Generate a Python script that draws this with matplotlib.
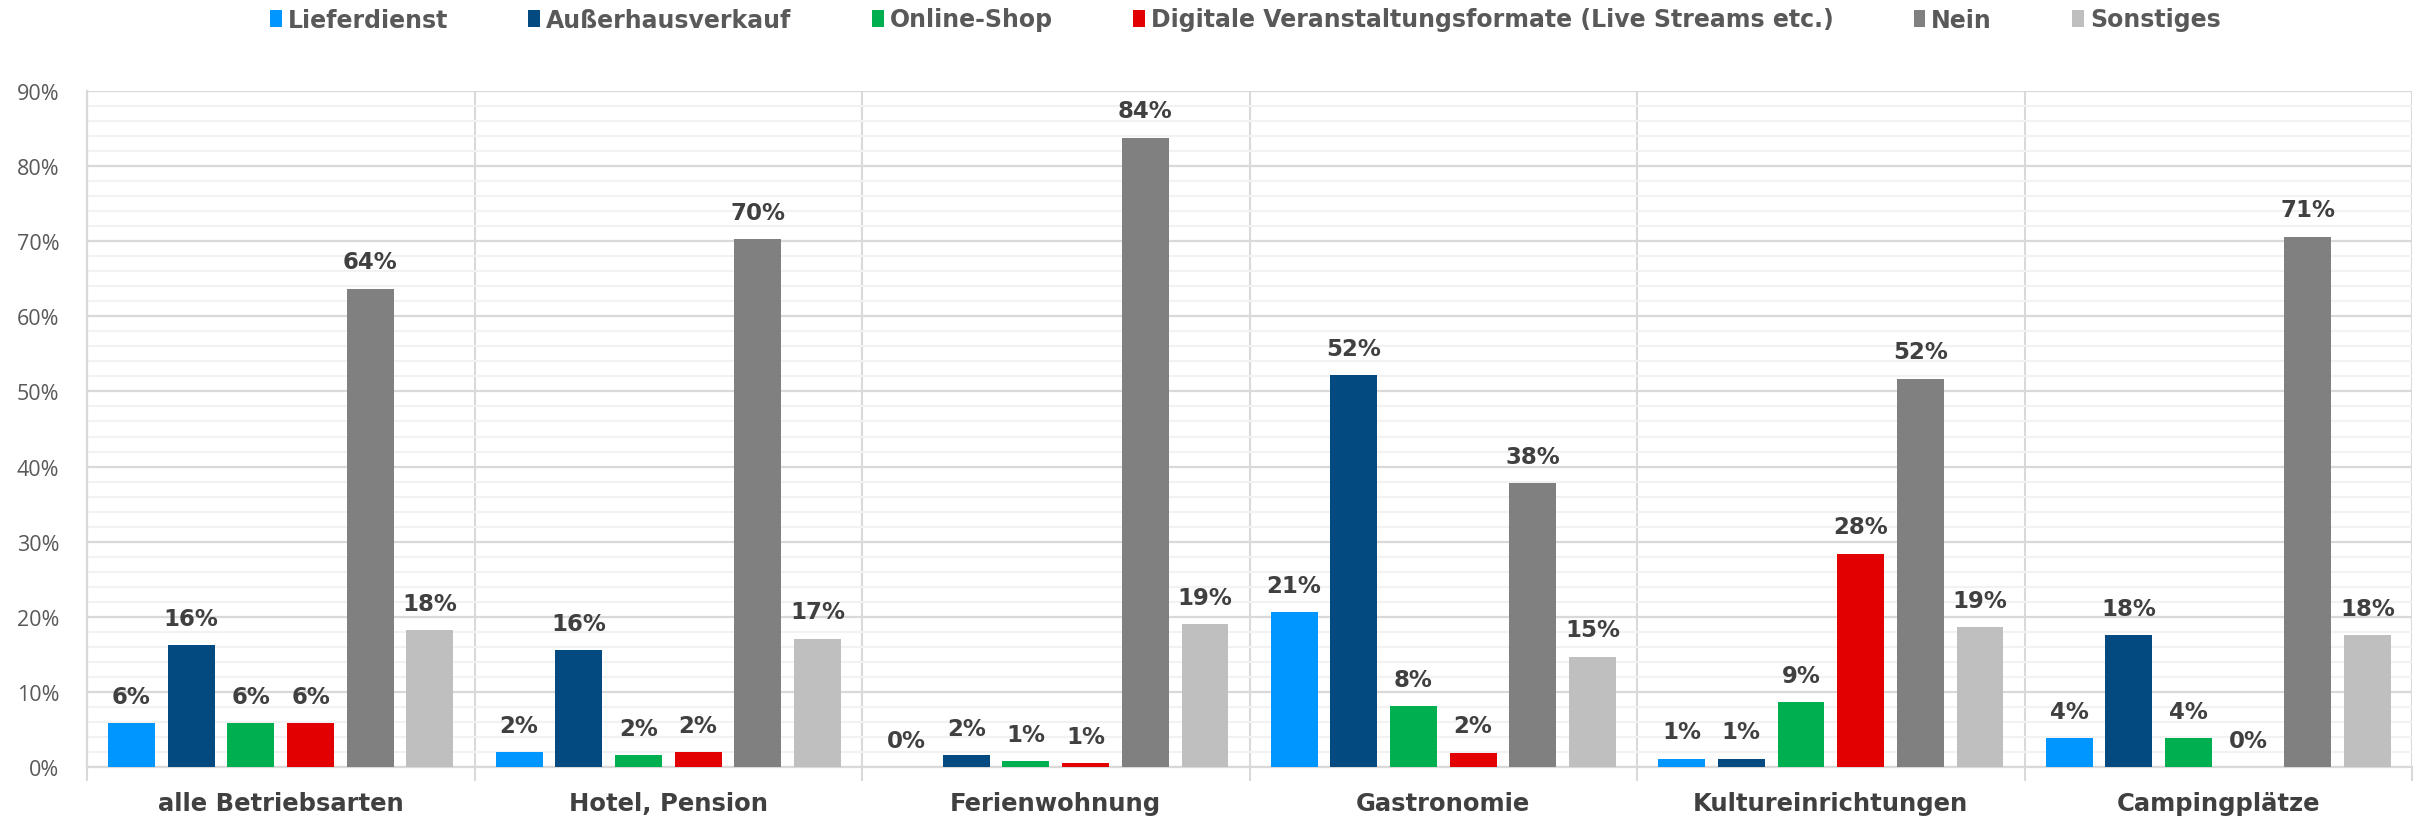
import numpy as np
import matplotlib
matplotlib.use("Agg")
import matplotlib.pyplot as plt
from matplotlib.ticker import MultipleLocator, FixedLocator, FuncFormatter

# Data (percent)
categories = ["alle Betriebsarten", "Hotel, Pension", "Ferienwohnung",
              "Gastronomie", "Kultureinrichtungen", "Campingplätze"]
series_names = ["Lieferdienst", "Außerhausverkauf", "Online-Shop",
                "Digitale Veranstaltungsformate (Live Streams etc.)", "Nein", "Sonstiges"]
lieferdienst = [5.8, 2.0, 0.0, 20.6, 1.1, 3.8]
ausserhaus = [16.2, 15.6, 1.6, 52.2, 1.1, 17.6]
online_shop = [5.8, 1.55, 0.8, 8.1, 8.6, 3.8]
digital = [5.8, 2.0, 0.55, 1.9, 28.4, 0.0]
nein = [63.7, 70.3, 83.8, 37.8, 51.7, 70.6]
sonstiges = [18.2, 17.1, 19.0, 14.7, 18.6, 17.6]

values = [lieferdienst, ausserhaus, online_shop, digital, nein, sonstiges]
colors = ["#0096FF", "#034A80", "#00B050", "#E20000", "#808080", "#BFBFBF"]

fig = plt.figure(figsize=(24.23, 8.2), dpi=100)
ax = fig.add_axes([0.0359, 0.0634, 0.9596, 0.8244])

x = np.arange(len(categories))
pitch = 0.154
width = 0.121

for i, (vals, col, name) in enumerate(zip(values, colors, series_names)):
    pos = x + (i - 2.5) * pitch
    bars = ax.bar(pos, vals, width, color=col, label=name, zorder=3)
    for b, v in zip(bars, vals):
        ax.annotate(f"{v:.0f}%", (b.get_x() + b.get_width() / 2, v),
                    xytext=(0, 11), textcoords="offset points",
                    ha="center", va="bottom", fontsize=16.5,
                    fontweight="bold", color="#404040", family="DejaVu Sans")

ax.set_xlim(-0.5, len(categories) - 0.5)
ax.set_ylim(0, 90)

# y grid: major every 10, minor every 2
ax.yaxis.set_major_locator(MultipleLocator(10))
ax.yaxis.set_minor_locator(MultipleLocator(2))
ax.yaxis.set_major_formatter(FuncFormatter(lambda v, p: f"{v:.0f}%"))
ax.grid(axis="y", which="major", color="#D9D9D9", linewidth=1.6, zorder=1)
ax.grid(axis="y", which="minor", color="#F2F2F2", linewidth=1.5, zorder=0)
ax.tick_params(axis="y", which="both", length=0, pad=20,
               labelsize=15.5, labelcolor="#595959")
for lab in ax.get_yticklabels():
    lab.set_family("Open Sans")

# x: category labels, separators between categories
ax.set_xticks(x)
ax.set_xticklabels(categories, fontsize=17.5, fontweight="bold",
                   color="#404040", family="DejaVu Sans")
ax.tick_params(axis="x", which="major", length=0, pad=17)
ax.xaxis.set_minor_locator(FixedLocator(np.arange(-0.5, len(categories), 1.0)))
ax.tick_params(axis="x", which="minor", length=10, width=1.5, color="#D9D9D9")
ax.grid(axis="x", which="minor", color="#D9D9D9", linewidth=1.5, zorder=1)

for side in ["top", "right"]:
    ax.spines[side].set_visible(False)
for side in ["left", "bottom"]:
    ax.spines[side].set_color("#D9D9D9")
    ax.spines[side].set_linewidth(1.6)

leg = fig.legend(loc="center", bbox_to_anchor=(0.514, 0.975), ncol=6,
                 frameon=False, handlelength=0.5, handleheight=0.75,
                 handletextpad=0.25, columnspacing=3.4,
                 prop={"family": "DejaVu Sans", "weight": "bold", "size": 17})
for t in leg.get_texts():
    t.set_color("#595959")

fig.savefig("out.png", dpi=100)
